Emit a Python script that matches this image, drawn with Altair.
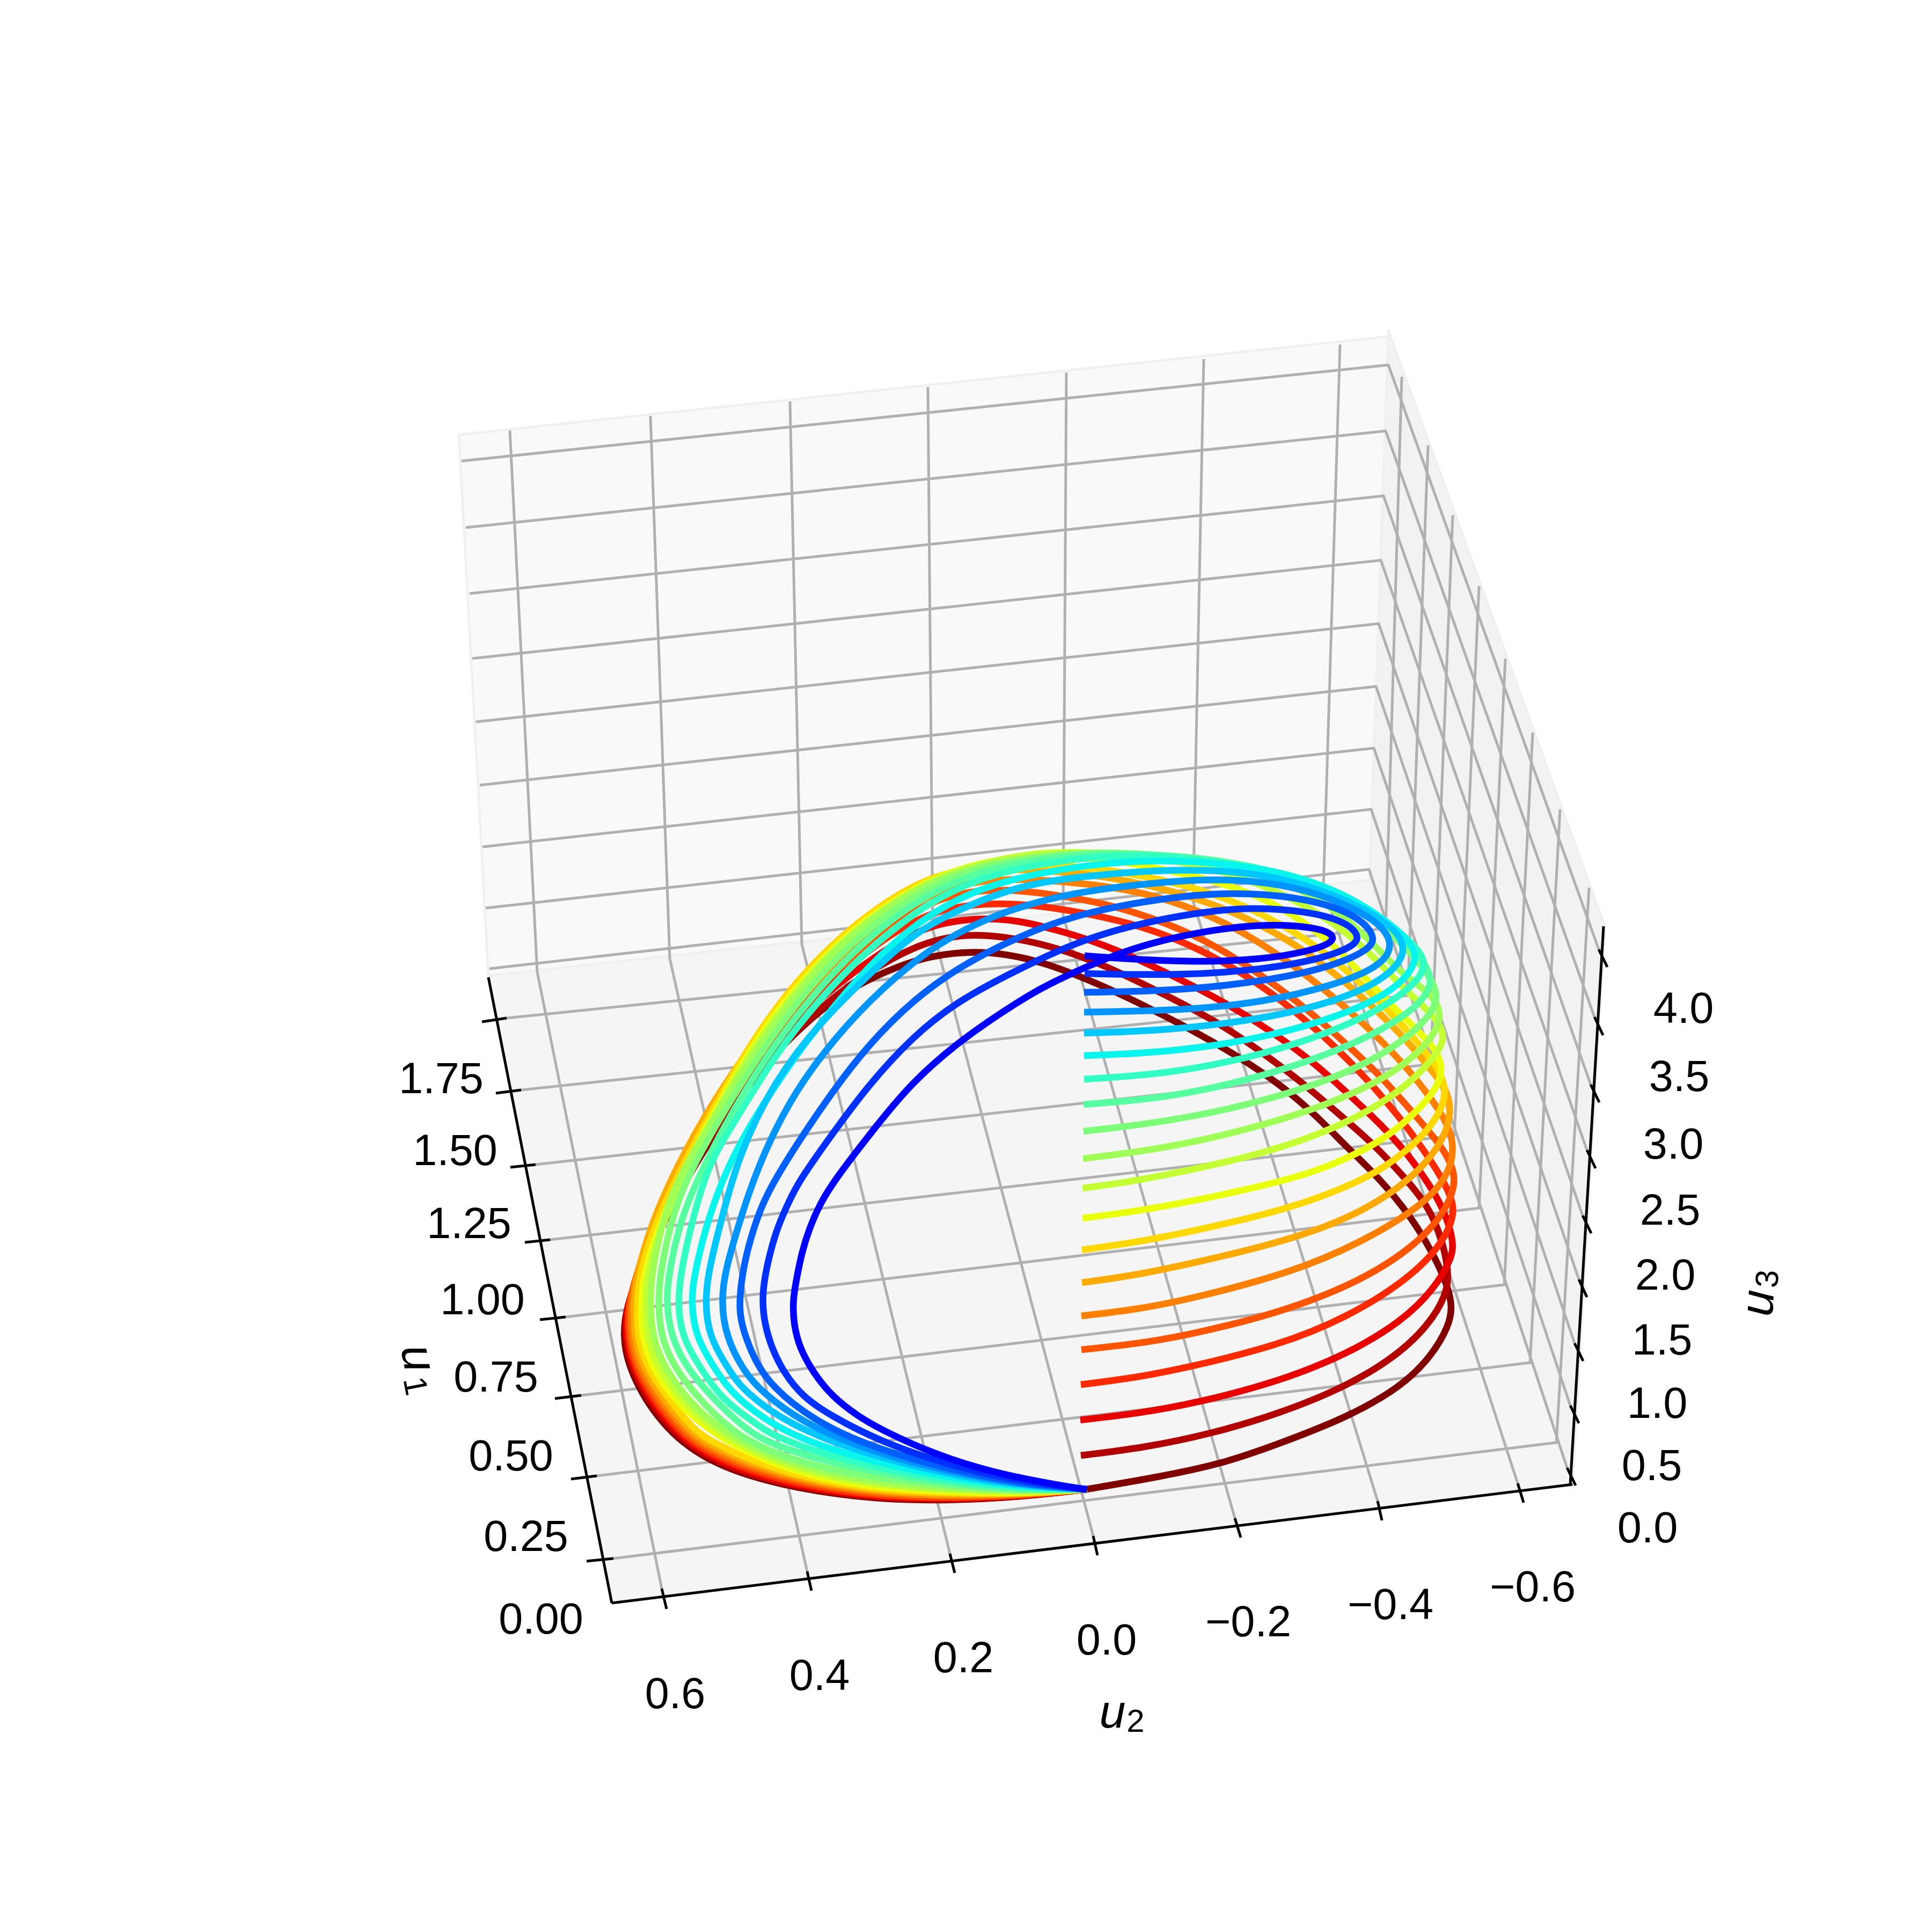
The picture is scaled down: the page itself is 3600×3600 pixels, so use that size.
import altair as alt
import numpy as np
import pandas as pd

# --- colours (reversed jet, first drawn = dark red, last drawn = blue)
curve_colors = ["#800000","#b20000","#e80000","#ff2a00","#ff5500","#ff8000","#ffaa00","#ffd800","#eaff0c","#c4ff33",
                "#a0ff56","#7dff7a","#56ffa0","#32ffc4","#08f5ee","#00c8ff","#0094ff","#0060ff","#0030ff","#0000ff"]

# --- curves (screen position in the projected view)
c01 = [(2025,2775),(2154,2753),(2277,2728),(2384,2690),(2511,2641),(2613,2583),(2669,2525),(2700,2470),(2706,2436),(2699,2400),(2674,2342),(2629,2266),(2567,2192),(2511,2139),(2455,2081),(2389,2023),(2307,1968),(2215,1916),(2129,1872),(2042,1831),(1950,1795),(1880,1778),(1806,1772),(1731,1782),(1674,1800),(1594,1836),(1525,1885),(1473,1934),(1415,1992),(1325,2120),(1248,2250),(1195,2370),(1168,2430),(1160,2490),(1173,2557),(1231,2655),(1317,2725),(1451,2768),(1610,2792),(1738,2797),(1897,2790),(2025,2775)]
c02 = [(2014,2712),(2130,2698),(2256,2672),(2384,2634),(2511,2583),(2613,2520),(2674,2454),(2699,2400),(2698,2360),(2685,2302),(2659,2244),(2618,2195),(2562,2134),(2496,2077),(2435,2024),(2358,1965),(2266,1902),(2154,1845),(2047,1793),(1950,1760),(1870,1745),(1800,1740),(1726,1755),(1663,1785),(1594,1827),(1525,1880),(1420,1985),(1320,2120),(1240,2260),(1192,2375),(1168,2430),(1163,2490),(1177,2557),(1237,2655),(1317,2721),(1451,2766),(1610,2790),(1738,2796),(1897,2790),(2025,2775)]
c03 = [(2013,2646),(2120,2634),(2231,2614),(2384,2574),(2511,2523),(2613,2462),(2674,2400),(2707,2342),(2708,2310),(2692,2257),(2664,2208),(2623,2150),(2573,2095),(2511,2037),(2445,1977),(2368,1921),(2282,1867),(2169,1810),(2093,1775),(2016,1746),(1950,1728),(1900,1716),(1835,1710),(1760,1718),(1703,1738),(1651,1769),(1594,1809),(1525,1862),(1415,1975),(1318,2110),(1235,2260),(1190,2375),(1168,2430),(1166,2490),(1180,2557),(1243,2655),(1317,2716),(1451,2764),(1610,2788),(1738,2794),(1897,2789),(2025,2775)]
c04 = [(2014,2580),(2110,2568),(2205,2550),(2384,2507),(2511,2454),(2613,2391),(2680,2329),(2712,2266),(2704,2230),(2685,2192),(2651,2140),(2608,2082),(2552,2016),(2486,1948),(2409,1880),(2327,1820),(2236,1768),(2129,1725),(2016,1700),(1950,1690),(1904,1685),(1835,1683),(1760,1693),(1703,1716),(1645,1751),(1594,1791),(1525,1854),(1412,1962),(1315,2100),(1232,2260),(1187,2375),(1170,2430),(1169,2490),(1183,2557),(1250,2655),(1317,2711),(1451,2760),(1610,2786),(1738,2793),(1897,2788),(2025,2775)]
c05 = [(2015,2515),(2110,2505),(2205,2490),(2384,2447),(2537,2387),(2639,2320),(2694,2257),(2713,2204),(2706,2172),(2686,2135),(2634,2075),(2578,2010),(2501,1938),(2435,1880),(2358,1822),(2266,1762),(2180,1722),(2067,1684),(1950,1665),(1904,1660),(1835,1657),(1760,1671),(1703,1697),(1645,1737),(1588,1782),(1525,1840),(1412,1950),(1312,2090),(1232,2260),(1187,2370),(1172,2423),(1172,2490),(1187,2557),(1256,2655),(1317,2705),(1451,2756),(1610,2783),(1738,2791),(1897,2787),(2025,2775)]
c06 = [(2015,2452),(2110,2441),(2205,2424),(2409,2371),(2537,2315),(2654,2245),(2704,2184),(2711,2121),(2680,2063),(2613,1978),(2537,1903),(2450,1828),(2358,1762),(2282,1718),(2180,1676),(2078,1652),(1950,1640),(1904,1638),(1835,1640),(1760,1655),(1703,1684),(1645,1720),(1588,1769),(1525,1827),(1412,1938),(1308,2080),(1226,2260),(1186,2370),(1176,2423),(1176,2490),(1192,2557),(1265,2655),(1317,2699),(1451,2752),(1610,2780),(1738,2788),(1897,2786),(2025,2775)]
c07 = [(2016,2390),(2110,2377),(2205,2358),(2409,2310),(2537,2260),(2634,2195),(2691,2125),(2705,2070),(2696,2030),(2664,1990),(2613,1929),(2537,1855),(2435,1772),(2348,1722),(2256,1682),(2154,1652),(2052,1632),(1950,1622),(1904,1620),(1835,1623),(1760,1648),(1703,1675),(1645,1706),(1599,1727),(1490,1831),(1416,1925),(1311,2077),(1223,2250),(1187,2370),(1181,2423),(1181,2490),(1199,2557),(1273,2655),(1317,2692),(1451,2748),(1610,2777),(1738,2785),(1897,2785),(2025,2775)]
c08 = [(2016,2329),(2110,2316),(2205,2298),(2409,2252),(2537,2200),(2588,2170),(2650,2120),(2686,2070),(2696,2030),(2678,1985),(2618,1915),(2552,1848),(2470,1772),(2358,1704),(2236,1654),(2072,1620),(1950,1610),(1846,1612),(1731,1630),(1617,1702),(1530,1778),(1444,1876),(1358,2010),(1229,2250),(1192,2370),(1187,2423),(1187,2490),(1207,2557),(1284,2655),(1317,2684),(1451,2744),(1610,2774),(1738,2782),(1897,2784),(2025,2775)]
c09 = [(2017,2270),(2110,2258),(2205,2242),(2399,2200),(2486,2170),(2578,2125),(2640,2072),(2680,2025),(2690,1985),(2668,1945),(2618,1898),(2562,1842),(2511,1787),(2460,1738),(2358,1672),(2256,1640),(2180,1622),(2060,1600),(1950,1594),(1846,1601),(1731,1637),(1617,1708),(1530,1787),(1444,1885),(1358,2019),(1238,2250),(1200,2370),(1195,2423),(1196,2490),(1217,2557),(1295,2655),(1451,2738),(1610,2770),(1738,2779),(1897,2783),(2025,2775)]
c10 = [(2017,2214),(2100,2203),(2180,2188),(2358,2150),(2511,2094),(2613,2032),(2669,1975),(2693,1940),(2684,1902),(2613,1840),(2572,1795),(2506,1733),(2409,1672),(2282,1622),(2154,1597),(2027,1588),(1950,1587),(1846,1603),(1731,1639),(1617,1713),(1530,1791),(1444,1894),(1358,2025),(1243,2250),(1205,2370),(1203,2423),(1205,2490),(1228,2557),(1307,2655),(1451,2731),(1610,2765),(1738,2775),(1897,2781),(2025,2775)]
c11 = [(2018,2159),(2180,2139),(2358,2097),(2511,2045),(2613,1990),(2672,1932),(2688,1889),(2668,1852),(2613,1815),(2572,1773),(2511,1711),(2409,1645),(2282,1612),(2154,1594),(2027,1585),(1846,1604),(1731,1642),(1617,1715),(1530,1796),(1444,1903),(1358,2037),(1259,2200),(1231,2289),(1215,2370),(1211,2423),(1215,2490),(1240,2557),(1320,2655),(1451,2723),(1610,2760),(1738,2771),(1897,2780),(2025,2775)]
c12 = [(2019,2108),(2180,2090),(2358,2052),(2511,2001),(2613,1943),(2666,1892),(2682,1854),(2660,1812),(2608,1751),(2511,1675),(2409,1640),(2282,1607),(2154,1592),(2027,1586),(1846,1608),(1731,1650),(1617,1729),(1530,1813),(1444,1921),(1358,2054),(1275,2200),(1247,2289),(1231,2370),(1226,2423),(1231,2490),(1259,2557),(1346,2655),(1425,2704),(1566,2745),(1738,2767),(1897,2778),(2025,2775)]
c13 = [(2019,2058),(2180,2046),(2358,2005),(2511,1952),(2613,1898),(2661,1854),(2670,1818),(2638,1770),(2590,1725),(2511,1670),(2409,1632),(2282,1603),(2154,1592),(2027,1589),(1846,1615),(1731,1662),(1617,1746),(1530,1836),(1444,1943),(1358,2081),(1298,2200),(1266,2280),(1247,2370),(1241,2423),(1250,2490),(1282,2557),(1377,2655),(1432,2691),(1566,2731),(1738,2762),(1897,2776),(2025,2775)]
c14 = [(2020,2011),(2180,2001),(2358,1965),(2511,1912),(2603,1862),(2651,1818),(2656,1787),(2632,1758),(2588,1720),(2511,1668),(2409,1629),(2282,1607),(2154,1593),(2027,1595),(1846,1626),(1731,1679),(1617,1769),(1530,1858),(1444,1965),(1358,2108),(1320,2170),(1288,2280),(1269,2370),(1263,2423),(1269,2490),(1310,2557),(1349,2611),(1412,2655),(1444,2678),(1572,2722),(1738,2756),(1897,2774),(2025,2775)]
c15 = [(2020,1967),(2180,1961),(2358,1934),(2511,1889),(2598,1845),(2638,1800),(2638,1764),(2590,1720),(2511,1668),(2409,1630),(2282,1608),(2154,1602),(2027,1610),(1846,1644),(1731,1702),(1645,1773),(1559,1867),(1473,1979),(1387,2112),(1345,2200),(1314,2289),(1293,2379),(1288,2423),(1295,2490),(1336,2557),(1368,2602),(1457,2669),(1585,2713),(1738,2749),(1897,2771),(2025,2775)]
c16 = [(2020,1925),(2180,1920),(2358,1898),(2486,1867),(2578,1827),(2622,1778),(2607,1738),(2562,1705),(2486,1666),(2384,1635),(2282,1621),(2154,1621),(2027,1632),(1904,1648),(1789,1693),(1703,1738),(1617,1818),(1530,1903),(1444,2012),(1377,2150),(1342,2280),(1320,2370),(1314,2423),(1320,2490),(1361,2557),(1387,2593),(1470,2655),(1597,2704),(1738,2742),(1897,2769),(2025,2775)]
c17 = [(2020,1886),(2205,1883),(2358,1867),(2486,1836),(2565,1804),(2596,1769),(2582,1730),(2527,1693),(2435,1657),(2333,1640),(2231,1638),(2103,1650),(2000,1664),(1904,1688),(1818,1720),(1731,1769),(1645,1840),(1559,1929),(1473,2044),(1409,2180),(1374,2289),(1351,2370),(1344,2423),(1352,2490),(1387,2557),(1419,2593),(1495,2651),(1610,2700),(1738,2736),(1897,2767),(2025,2775)]
c18 = [(2020,1849),(2180,1847),(2358,1829),(2486,1800),(2552,1769),(2564,1746),(2532,1708),(2460,1680),(2358,1665),(2256,1664),(2129,1679),(2001,1706),(1904,1742),(1789,1800),(1703,1862),(1617,1947),(1536,2054),(1441,2200),(1416,2254),(1393,2325),(1381,2387),(1377,2440),(1384,2477),(1406,2535),(1438,2584),(1515,2646),(1610,2691),(1738,2731),(1897,2765),(2025,2775)]
c19 = [(2021,1814),(2205,1818),(2358,1806),(2460,1787),(2522,1764),(2535,1744),(2505,1716),(2435,1698),(2333,1690),(2231,1700),(2103,1725),(2000,1758),(1904,1803),(1789,1862),(1703,1929),(1617,2023),(1548,2117),(1489,2200),(1467,2245),(1448,2289),(1435,2334),(1425,2379),(1420,2423),(1425,2468),(1438,2512),(1460,2557),(1495,2602),(1546,2637),(1642,2687),(1770,2731),(1897,2760),(2025,2775)]
c20 = [(2021,1781),(2103,1787),(2231,1793),(2348,1788),(2435,1774),(2492,1754),(2476,1733),(2409,1724),(2348,1723),(2256,1733),(2169,1751),(2093,1773),(2016,1805),(1950,1836),(1904,1862),(1789,1938),(1697,2019),(1628,2104),(1554,2200),(1527,2245),(1508,2289),(1494,2334),(1485,2379),(1477,2423),(1479,2468),(1490,2512),(1515,2557),(1550,2602),(1600,2640),(1642,2664),(1738,2709),(1865,2749),(2025,2776)]
curves = [c01,c02,c03,c04,c05,c06,c07,c08,c09,c10,c11,c12,c13,c14,c15,c16,c17,c18,c19,c20]

# --- panes
pane_back = [(855,810),(2587,627),(2552,1640),(910,1818)]
pane_right = [(2587,615),(2990,1725),(2930,2766),(2552,1640)]
pane_floor = [(910,1818),(2552,1640),(2930,2766),(1140,2987)]

# --- grid lines
grid_u2 = [[(1233,2960),(1001,1811),(950,802)],[(1504,2928),(1248,1786),(1212,775)],[(1770,2895),(1494,1759),(1472,748)],
           [(2037,2862),(1738,1732),(1729,721)],[(2301,2829),(1981,1706),(1987,694)],[(2567,2797),(2223,1679),(2243,669)],
           [(2828,2764),(2466,1652),(2497,642)]]
grid_u1 = [[(944,1897),(2582,1730),(2612,702)],[(971,2031),(2623,1855),(2661,830)],[(998,2170),(2666,1983),(2707,960)],
           [(1025,2310),(2710,2116),(2756,1092)],[(1054,2454),(2756,2251),(2805,1227)],[(1083,2600),(2803,2394),(2856,1365)],
           [(1112,2750),(2851,2539),(2907,1508)],[(1143,2904),(2900,2688),(2961,1654)]]
grid_u3 = [[(860,859),(2587,680),(2979,1769)],[(868,983),(2582,803),(2971,1895)],[(875,1106),(2578,924),(2964,2021)],
           [(880,1227),(2573,1044),(2957,2143)],[(887,1345),(2569,1162),(2949,2265)],[(894,1463),(2564,1279),(2942,2384)],
           [(899,1578),(2560,1394),(2934,2503)],[(905,1692),(2555,1508),(2926,2619)],[(912,1805),(2551,1620),(2920,2735)]]

# --- axes and ticks
axis_lines = [[(910,1821),(1140,2987)],[(1140,2987),(2930,2766)],[(2926,2765),(2988,1726)]]
ticks_u1 = [[(898,1904),(944,1897)],[(924,2037),(971,2031)],[(951,2175),(998,2170)],[(978,2315),(1025,2310)],
            [(1006,2459),(1054,2454)],[(1034,2606),(1083,2600)],[(1064,2756),(1112,2750)],[(1093,2909),(1143,2904)]]
ticks_u2 = [[(1233,2960),(1242,2998)],[(1504,2928),(1512,2964)],[(1770,2895),(1779,2931)],[(2037,2862),(2045,2898)],
            [(2301,2829),(2312,2865)],[(2567,2797),(2575,2833)],[(2828,2764),(2839,2800)]]
ticks_u3 = [[(2979,1769),(2995,1802)],[(2971,1895),(2987,1929)],[(2964,2021),(2980,2054)],[(2957,2143),(2973,2177)],
            [(2949,2265),(2965,2298)],[(2942,2384),(2957,2417)],[(2934,2503),(2950,2536)],[(2926,2619),(2942,2652)],[(2920,2735),(2936,2768)]]

# --- tick labels
labels_u1 = [("1.75",822,2013),("1.50",848,2147),("1.25",874,2283),("1.00",899,2425),("0.75",924,2569),("0.50",952,2716),("0.25",980,2866),("0.00",1008,3020)]
labels_u2 = [("0.6",1258,3159),("0.4",1527,3125),("0.2",1795,3092),("0.0",2062,3059),("\u22120.2",2326,3025),("\u22120.4",2591,2993),("\u22120.6",2856,2960)]
labels_u3 = [("4.0",3137,1882),("3.5",3129,2009),("3.0",3118,2135),("2.5",3112,2258),("2.0",3103,2379),("1.5",3097,2500),("1.0",3088,2618),("0.5",3078,2734),("0.0",3070,2850)]

# --- axis titles: (text, x, y, angle, size, italic)
titles = [("u",2073,3193,0,88,True),("2",2116,3209,0,60,False),
          ("u",777,2531,79,88,True),("1",772,2583,79,60,False),
          ("u",3278,2428,273.4,88,True),("3",3295,2383,273.4,60,False)]

sx = alt.Scale(domain=[8,3592], nice=False, zero=False)
sy = alt.Scale(domain=[3592,8], nice=False, zero=False)
X = alt.X("x:Q", scale=sx, axis=None)
Y = alt.Y("y:Q", scale=sy, axis=None)

def polyline(points, color, width, interpolate="linear"):
    df = pd.DataFrame({"x":[p[0] for p in points], "y":[p[1] for p in points], "i":range(len(points))})
    return alt.Chart(df).mark_line(color=color, strokeWidth=width, interpolate=interpolate, strokeCap="butt", strokeJoin="round").encode(x=X, y=Y, order="i:Q")

def pane(corners, color):
    xs = sorted({c[0] for c in corners})
    closed = list(corners)+[corners[0]]
    rows = []
    for x in xs:
        hits = []
        for (x0,y0),(x1,y1) in zip(closed[:-1],closed[1:]):
            if min(x0,x1) <= x <= max(x0,x1) and x0 != x1:
                hits.append(y0+(y1-y0)*(x-x0)/(x1-x0))
        rows.append({"x":x,"y":min(hits),"y2":max(hits)})
    area = alt.Chart(pd.DataFrame(rows)).mark_area(color=color, opacity=1).encode(x=X, y=Y, y2="y2:Q")
    return area

layers = [pane(pane_back,"#f9f9f9"), pane(pane_right,"#f2f2f2"), pane(pane_floor,"#f5f5f5")]
for corners in (pane_back, pane_right, pane_floor):
    layers.append(polyline(list(corners)+[corners[0]], "#f0f0f0", 4.4))
for g in grid_u1+grid_u2+grid_u3:
    layers.append(polyline(g, "#b0b0b0", 5))
for seg in axis_lines+ticks_u1+ticks_u2+ticks_u3:
    layers.append(polyline(seg, "#000000", 5))
for c, col in zip(curves, curve_colors):
    layers.append(polyline(c, col, 12.5, "basis"))

tick_df = pd.DataFrame(labels_u1+labels_u2+labels_u3, columns=["t","x","y"])
layers.append(alt.Chart(tick_df).mark_text(font="Liberation Sans", fontSize=81, color="#000000", align="center", baseline="middle").encode(x=X, y=Y, text="t:N"))
for t,x,y,a,s,it in titles:
    layers.append(alt.Chart(pd.DataFrame({"t":[t],"x":[x],"y":[y]})).mark_text(
        font="Liberation Sans", fontSize=s, angle=a, fontStyle="italic" if it else "normal",
        color="#000000", align="center", baseline="middle").encode(x=X, y=Y, text="t:N"))

chart = alt.layer(*layers).properties(width=3584, height=3584, padding=0, autosize=alt.AutoSizeParams(type="none")).configure_view(stroke=None)
chart.save("out.html", embed_options={"renderer": "svg", "actions": False})
